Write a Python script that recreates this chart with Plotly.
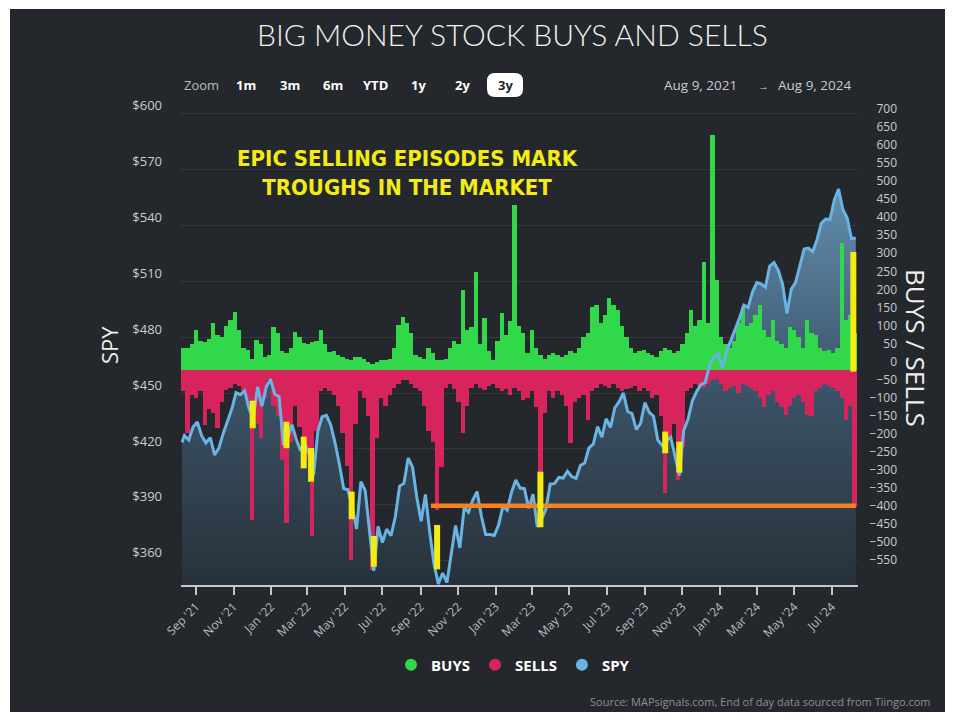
import pandas as pd
import plotly.graph_objects as go

# ---------------- data ----------------
SPY_DATES = ["2021-08-09"] + [d.strftime("%Y-%m-%d") for d in pd.date_range("2021-08-13", periods=157, freq="7D")]
SPY_VALUES = [
    423.5, 427.2, 424.8, 431.8, 434.5, 427.1, 423.3, 426.1, 416.8, 420.4, 428.2,
    435.4, 441.4, 450.2, 449.1, 451.1, 441.6, 436.2, 453.3, 442.9, 453.2, 457.4,
    449.3, 448.0, 422.2, 426.1, 433.0, 425.1, 419.0, 422.4, 417.5, 405.8,
    429.4, 437.3, 438.0, 432.8, 423.3, 411.9, 398.8, 398.1, 388.8, 377.1,
    402.4, 397.8, 377.7, 354.6, 378.4, 369.8, 377.0, 373.5, 383.6, 400.1,
    401.5, 415.1, 410.3, 394.0, 381.2, 395.6, 375.2, 358.1, 347.6, 353.4,
    348.3, 364.6, 378.9, 366.9, 388.5, 386.1, 392.6, 397.1, 383.9, 374.1,
    374.1, 373.6,
    379.2, 389.3, 387.2, 396.8, 403.3, 399.0, 398.7, 388.1, 395.7, 378.2,
    382.2, 387.8, 401.2, 401.4, 404.7, 404.4, 408.0, 405.2, 404.2, 411.1,
    412.4, 420.6, 422.6, 432.0, 426.3, 436.2, 431.5, 442.1, 445.4, 450.0,
    440.1, 439.0, 430.4, 433.8, 444.9, 439.7, 437.6, 424.8, 421.9, 424.3,
    426.3, 416.1, 405.8, 429.9, 435.8, 445.8, 450.7, 454.5, 455.6, 464.6,
    469.4, 471.0,
    463.7, 472.4, 478.5, 483.5, 490.4, 497.2, 496.0, 504.3, 509.3, 508.6,
    506.7, 518.1, 520.0, 515.8, 508.3, 492.7, 505.8, 509.3, 518.7, 527.3,
    527.8, 525.8, 532.4, 541.2, 543.4, 543.1, 553.5, 559.4, 548.5, 543.9,
    532.9, 533.0,
]

FLOW_DATES = [d.strftime("%Y-%m-%d") for d in pd.date_range("2021-08-11", periods=157, freq="7D")]
BUYS = [
    60, 60, 70, 110, 80, 75, 85, 129, 95, 90,
    120, 137, 160, 110, 60, 55, 30, 82, 70, 35,
    40, 119, 100, 50, 45, 60, 104, 90, 73, 70,
    76, 80, 110, 70, 49, 50, 40, 35, 30, 25,
    35, 35, 30, 20, 15, 20, 25, 25, 30, 60,
    123, 146, 130, 100, 40, 35, 30, 60, 45, 25,
    25, 30, 60, 80, 70, 220, 110, 118, 271, 70,
    143, 50, 26, 80, 156, 95, 134, 456, 120, 100,
    45, 110, 60, 40, 30, 40, 45, 40, 35, 40,
    50, 45, 60, 90, 100, 174, 178, 130, 150, 198,
    178, 164, 120, 90, 60, 45, 50, 55, 45, 40,
    35, 50, 60, 55, 45, 50, 70, 100, 165, 120,
    137, 299, 130, 650, 248, 90, 70, 60, 80, 130,
    174, 120, 130, 150, 178, 110, 90, 136, 80, 70,
    60, 118, 110, 90, 60, 137, 100, 95, 60, 50,
    55, 45, 60, 350, 137, 150, 100,
]
SELLS = [
    -60, -176, -70, -80, -60, -154, -110, -120, -162, -90,
    -57, -50, -40, -45, -60, -100, -417, -150, -190, -80,
    -30, -100, -130, -250, -425, -200, -100, -160, -240, -251,
    -462, -170, -60, -50, -60, -70, -100, -176, -268, -528,
    -150, -60, -80, -130, -555, -190, -80, -100, -70, -50,
    -40, -30, -30, -40, -50, -60, -100, -170, -200, -390,
    -270, -50, -40, -55, -90, -176, -100, -50, -40, -50,
    -57, -45, -40, -50, -60, -55, -70, -50, -60, -85,
    -80, -60, -104, -390, -120, -60, -80, -60, -70, -100,
    -205, -90, -80, -70, -140, -60, -50, -40, -45, -50,
    -40, -50, -60, -55, -50, -45, -60, -50, -60, -80,
    -70, -130, -343, -195, -150, -306, -215, -60, -50, -40,
    -45, -50, -40, -30, -25, -40, -60, -50, -45, -65,
    -40, -45, -50, -60, -80, -104, -70, -60, -90, -104,
    -125, -100, -80, -70, -90, -125, -130, -60, -50, -40,
    -45, -50, -60, -80, -140, -100, -380,
]

SPY_TICKS = [360, 390, 420, 450, 480, 510, 540, 570, 600]
SPY_TICK_TEXT = ["$" + str(v) for v in SPY_TICKS]
FLOW_TICKS = list(range(-550, 701, 50))

# highlighted trough episodes (date, SPY low, SPY high)
TROUGH_DATES = ["2021-12-02", "2022-01-26", "2022-02-23", "2022-03-07", "2022-05-12",
                "2022-06-17", "2022-09-28", "2023-03-15", "2023-10-04", "2023-10-27"]
TROUGH_LOW = [431.1, 420.4, 409.6, 402.4, 382.3, 356.8, 355.4, 378.0, 417.7, 407.3]
TROUGH_HIGH = [445.9, 434.6, 426.6, 420.5, 397.1, 373.3, 379.2, 407.8, 429.3, 423.9]
LAST_EPISODE = ("2024-08-05", -6, 326)           # on the buys/sells scale
ORANGE_LEVEL = -378
ORANGE_START, ORANGE_END = "2022-09-18", "2024-08-09"

ZOOM_LABELS = ["1m", "3m", "6m", "YTD", "1y", "2y", "3y"]

# ---------------- layout helpers ----------------
W, H = 954, 722
ML, MR, MT, MB = 181, 40, 100, 137
PW, PH = W - ML - MR, H - MT - MB
XDOM = (858 - ML) / PW


def fx(p):
    return (p - ML) / PW


def fy(p):
    return (H - MB - p) / PH


BG = "#24272b"
GREEN = "#30d84a"
RED = "#d8245d"
BLUE = "#6ab4e4"
YELLOW = "#f2ec14"
ORANGE = "#f5821f"
TXT = "#c9ccd0"
FONT = "Open Sans"

fig = go.Figure()

fig.add_trace(go.Scatter(
    x=SPY_DATES, y=SPY_VALUES, mode="lines", line=dict(width=0, color=BLUE),
    fill="tozeroy",
    fillgradient=dict(type="vertical", start=347, stop=568,
                      colorscale=[[0, "#28313a"], [0.45, "#3a5165"], [1, "#6592b5"]]),
    yaxis="y", showlegend=False, hoverinfo="skip"))

WEEK_MS = 7 * 24 * 3600 * 1000
fig.add_trace(go.Bar(x=FLOW_DATES, y=BUYS, width=WEEK_MS, marker=dict(color=GREEN, line=dict(width=0)),
                     yaxis="y2", showlegend=False, name="BUYS"))
fig.add_trace(go.Bar(x=FLOW_DATES, y=SELLS, width=WEEK_MS, marker=dict(color=RED, line=dict(width=0)),
                     yaxis="y2", showlegend=False, name="SELLS"))

fig.add_trace(go.Scatter(x=SPY_DATES, y=SPY_VALUES, mode="lines", line=dict(color=BLUE, width=3),
                         yaxis="y3", showlegend=False, name="SPY"))

for nm, col in [("BUYS", GREEN), ("SELLS", RED), ("SPY", BLUE)]:
    fig.add_trace(go.Scatter(x=[None], y=[None], mode="markers", name=nm,
                             marker=dict(size=16, color=col), yaxis="y3"))

shapes = [dict(type="rect", xref="paper", yref="paper", x0=fx(10), x1=fx(945), y0=fy(712), y1=fy(9),
               fillcolor=BG, line=dict(width=0), layer="below")]
shapes.append(dict(type="line", xref="x", yref="y2", x0=ORANGE_START, x1=ORANGE_END,
                   y0=ORANGE_LEVEL, y1=ORANGE_LEVEL, line=dict(color=ORANGE, width=4.5), layer="above"))
for d, lo, hi in zip(TROUGH_DATES, TROUGH_LOW, TROUGH_HIGH):
    shapes.append(dict(type="line", xref="x", yref="y", x0=d, x1=d, y0=lo, y1=hi,
                       line=dict(color=YELLOW, width=6), layer="above"))
shapes.append(dict(type="line", xref="x", yref="y2", x0=LAST_EPISODE[0], x1=LAST_EPISODE[0],
                   y0=LAST_EPISODE[1], y1=LAST_EPISODE[2], line=dict(color=YELLOW, width=6), layer="above"))

# rounded highlight behind "3y"
x0, x1, y0, y1, r = 487, 523, 73, 97, 8
path = (f"M {fx(x0 + r)},{fy(y0)} L {fx(x1 - r)},{fy(y0)} Q {fx(x1)},{fy(y0)} {fx(x1)},{fy(y0 + r)} "
        f"L {fx(x1)},{fy(y1 - r)} Q {fx(x1)},{fy(y1)} {fx(x1 - r)},{fy(y1)} "
        f"L {fx(x0 + r)},{fy(y1)} Q {fx(x0)},{fy(y1)} {fx(x0)},{fy(y1 - r)} "
        f"L {fx(x0)},{fy(y0 + r)} Q {fx(x0)},{fy(y0)} {fx(x0 + r)},{fy(y0)} Z")
shapes.append(dict(type="path", xref="paper", yref="paper", path=path, fillcolor="#ffffff",
                   line=dict(width=0), layer="above"))

ann = []


def add_text(text, xp, yp, size, color, xanchor="center", yanchor="middle", weight="normal",
             family=FONT, angle=0):
    ann.append(dict(text=text, x=fx(xp), y=fy(yp), xref="paper", yref="paper", showarrow=False,
                    xanchor=xanchor, yanchor=yanchor, textangle=angle,
                    font=dict(size=size, color=color, family=family, weight=weight)))


add_text("BIG MONEY STOCK BUYS AND SELLS", 512, 34, 30, "#f2f2f2", weight=300, family="Lato")
add_text("Zoom", 201, 85, 13, "#b8bbbf")
for lab, xc in zip(ZOOM_LABELS, [246, 290, 333, 375, 418, 462, 505]):
    add_text(lab, xc, 85, 13, "#222529" if lab == "3y" else "#ffffff", weight="bold")
add_text("Aug 9, 2021", 700, 85, 13.5, "#c8cbcf")
add_text("→", 763, 85, 11, "#c8cbcf")
add_text("Aug 9, 2024", 815, 85, 13.5, "#c8cbcf")
add_text("SPY", 109, 345, 22, "#eeeeee", angle=-90)
add_text("BUYS / SELLS", 916, 348, 26, "#eeeeee", angle=90)
add_text("EPIC SELLING EPISODES MARK<br>TROUGHS IN THE MARKET", 407, 173, 22, YELLOW,
         weight="bold", family="Liberation Sans Narrow, DejaVu Sans Condensed, Open Sans")
add_text("Source: MAPsignals.com, End of day data sourced from Tiingo.com", 933, 701, 11, "#8c9094",
         xanchor="right")

fig.update_layout(
    width=W, height=H,
    margin=dict(l=ML, r=MR, t=MT, b=MB),
    paper_bgcolor="#ffffff",
    plot_bgcolor="rgba(0,0,0,0)",
    barmode="overlay", bargap=0,
    font=dict(family=FONT, color=TXT),
    shapes=shapes,
    annotations=ann,
    showlegend=True,
    legend=dict(orientation="h", x=fx(513), y=fy(665), xanchor="center", yanchor="middle",
                font=dict(size=15, color="#ffffff", weight="bold", family=FONT),
                bgcolor="rgba(0,0,0,0)", itemsizing="constant", itemwidth=30),
    xaxis=dict(domain=[0, XDOM], type="date", range=["2021-08-07 10:00", "2024-08-12 14:00"],
               showgrid=False, zeroline=False, showline=True, linecolor="#c3c7cc", linewidth=2,
               ticks="outside", ticklen=8, tickwidth=1.5, tickcolor="#c3c7cc",
               tick0="2021-09-01", dtick="M2", tickformat="%b '%y", tickangle=-45,
               tickfont=dict(size=12, color="#b9bdc2")),
    yaxis=dict(range=[347.0, 607.24], tickmode="array", tickvals=SPY_TICKS, ticktext=SPY_TICK_TEXT,
               showgrid=True, gridcolor="#35393e", gridwidth=1, zeroline=False, showline=False,
               ticks="", ticklabelshift=-8, ticklabelstandoff=18, tickfont=dict(size=13, color=TXT)),
    yaxis2=dict(overlaying="y", anchor="free", position=fx(900), side="right",
                range=[-597.5, 747.2], tickvals=FLOW_TICKS, ticklabelposition="inside",
                showgrid=False, zeroline=False, showline=False, ticks="",
                ticklabelshift=-8, tickfont=dict(size=12, color=TXT)),
    yaxis3=dict(overlaying="y", range=[347.0, 607.24], visible=False),
)

fig.write_html("out.html", config={"displayModeBar": False},
               post_script="document.body.style.margin='0px';")
